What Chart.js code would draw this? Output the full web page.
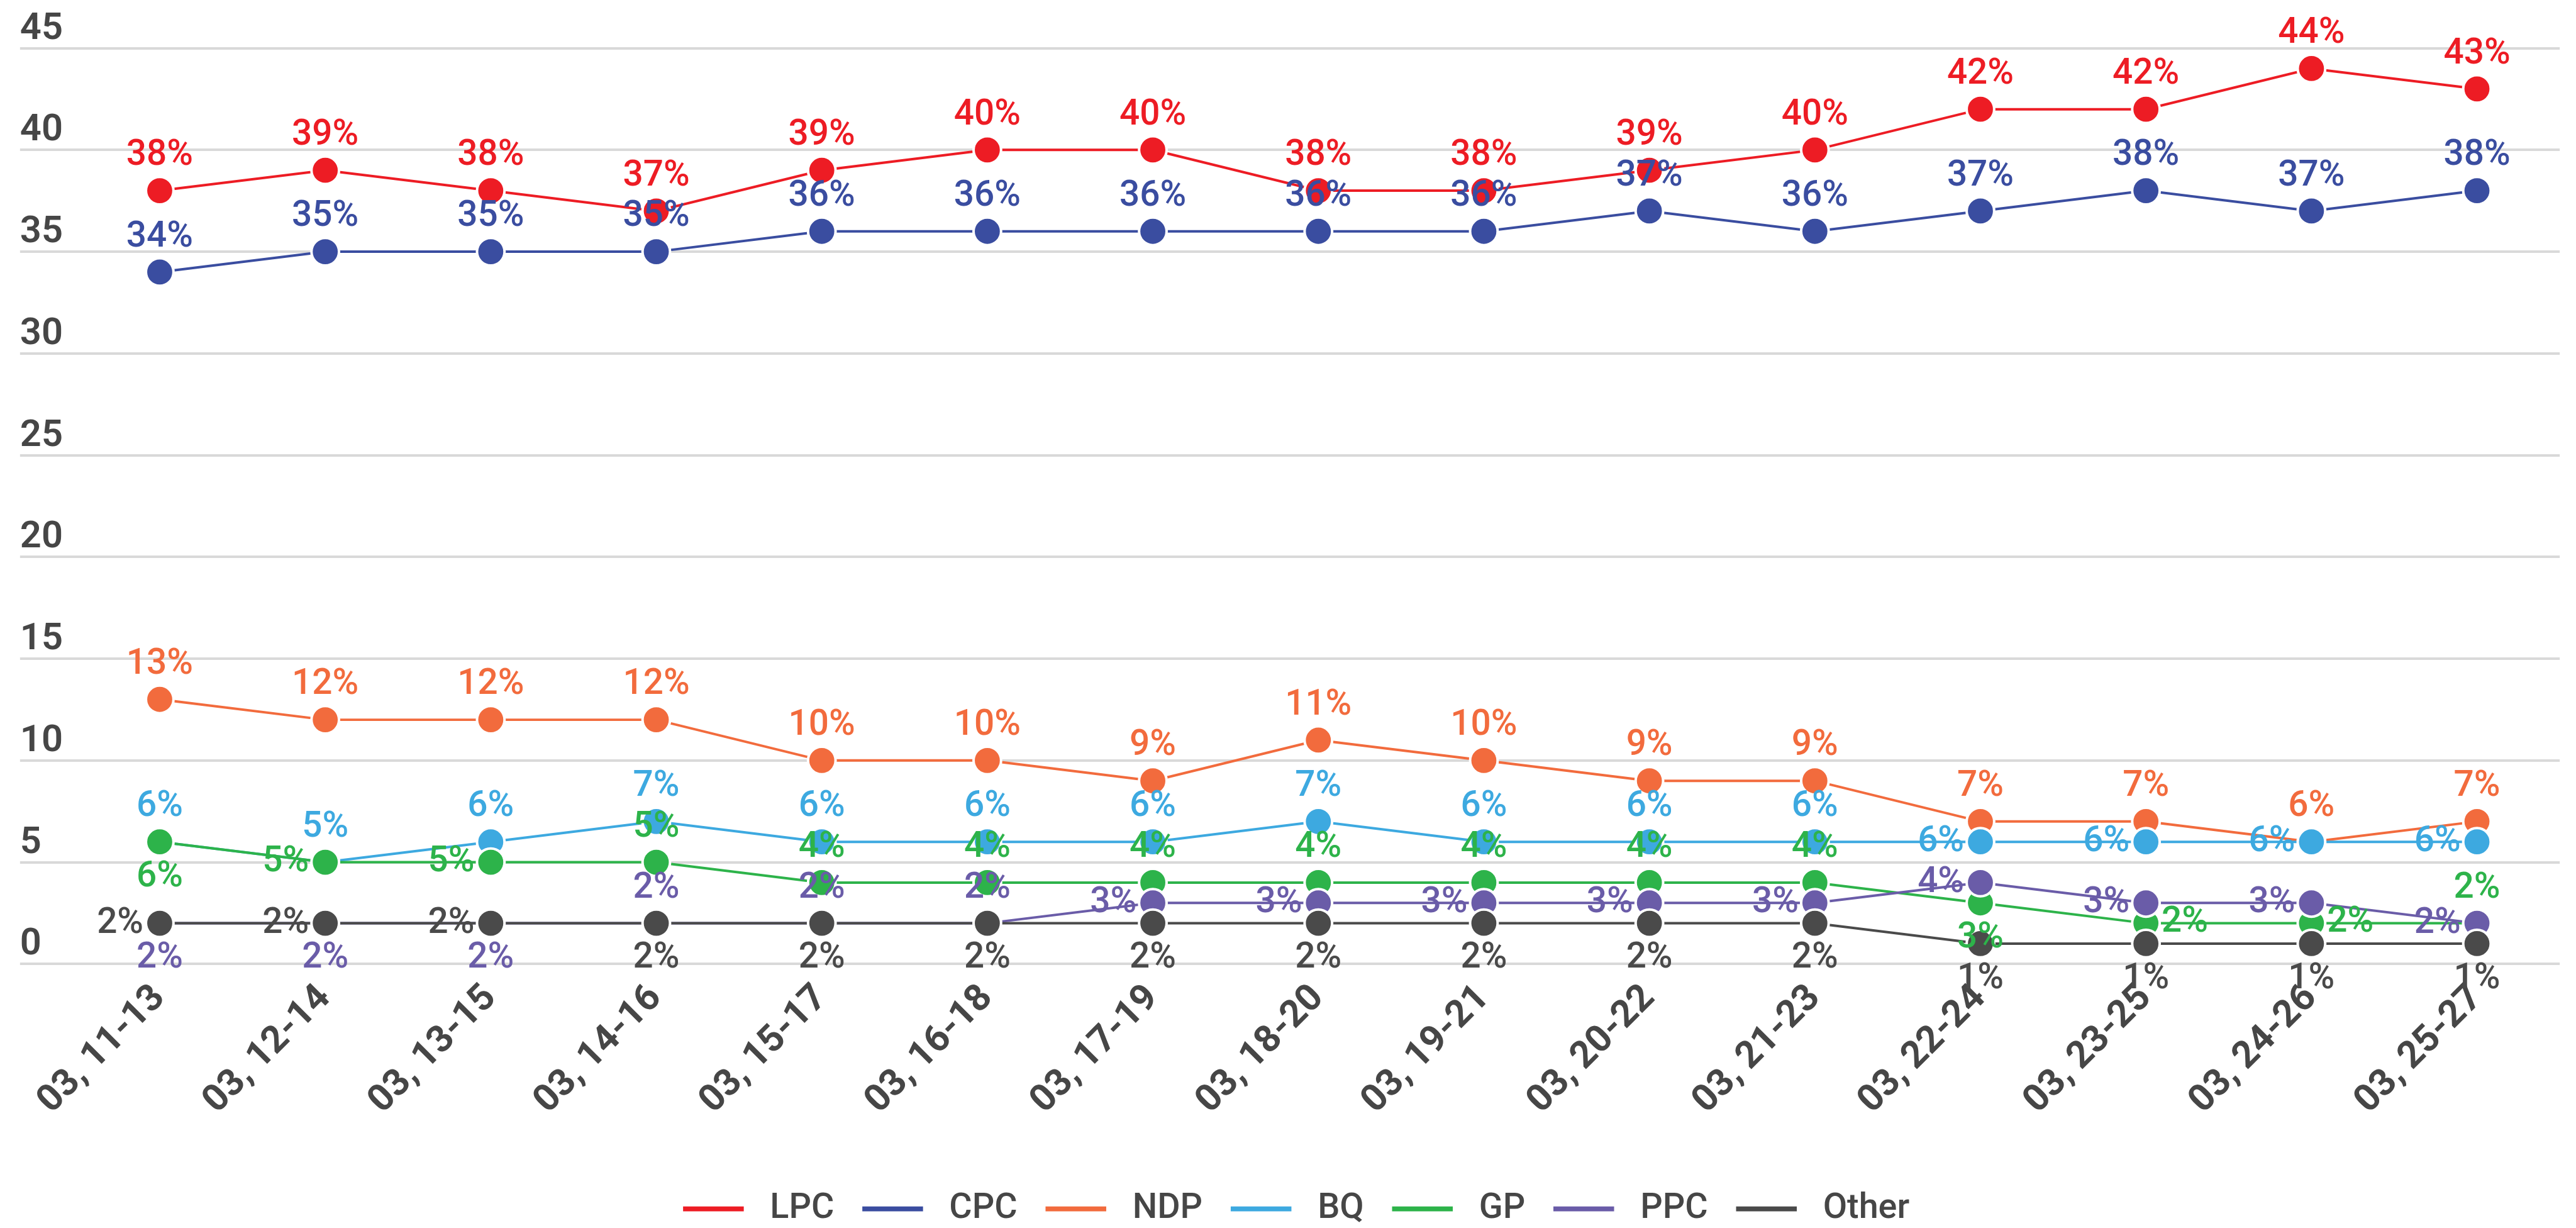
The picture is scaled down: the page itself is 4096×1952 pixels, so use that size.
<!DOCTYPE html>
<html>
<head>
<meta charset="utf-8">
<script src="https://cdn.jsdelivr.net/npm/chart.js@4.4.1/dist/chart.umd.min.js"></script>
<style>
  html, body { margin: 0; padding: 0; background: #ffffff; }
  #wrap { width: 4096px; height: 1952px; position: relative; }
</style>
</head>
<body>
<div id="wrap"><canvas id="chart"></canvas></div>
<script>
// ---------- DATA ----------
const categories = ['03, 11-13', '03, 12-14', '03, 13-15', '03, 14-16', '03, 15-17', '03, 16-18', '03, 17-19',
  '03, 18-20', '03, 19-21', '03, 20-22', '03, 21-23', '03, 22-24', '03, 23-25', '03, 24-26', '03, 25-27'];
const seriesNames = ['LPC', 'CPC', 'NDP', 'BQ', 'GP', 'PPC', 'Other'];
const lpc   = [38, 39, 38, 37, 39, 40, 40, 38, 38, 39, 40, 42, 42, 44, 43];
const cpc   = [34, 35, 35, 35, 36, 36, 36, 36, 36, 37, 36, 37, 38, 37, 38];
const ndp   = [13, 12, 12, 12, 10, 10, 9, 11, 10, 9, 9, 7, 7, 6, 7];
const bq    = [6, 5, 6, 7, 6, 6, 6, 7, 6, 6, 6, 6, 6, 6, 6];
const gp    = [6, 5, 5, 5, 4, 4, 4, 4, 4, 4, 4, 3, 2, 2, 2];
const ppc   = [2, 2, 2, 2, 2, 2, 3, 3, 3, 3, 3, 4, 3, 3, 2];
const other = [2, 2, 2, 2, 2, 2, 2, 2, 2, 2, 2, 1, 1, 1, 1];
const seriesValues = [lpc, cpc, ndp, bq, gp, ppc, other];
const yMin = 0, yMax = 45, yStep = 5;

// ---------- STYLE (kept apart from data) ----------
const S = 0.995;
const FONT = 'Roboto';
const TEXT = '#464646';
const GRID = '#d9d9d9';
const seriesColors = ['#ed1c24', '#3a4da0', '#f26b3d', '#3da9e0', '#2db34a', '#6a5ca8', '#4a4a4a'];
// label placement per point: t = above, b = below, l = left, r = right
const labelPlacement = [
  't'.repeat(15).split(''),
  't'.repeat(15).split(''),
  't'.repeat(15).split(''),
  ['t','t','t','t','t','t','t','t','t','t','t','l','l','l','l'],
  ['b','l','l','t','t','t','t','t','t','t','t','b','r','r','t'],
  ['b','b','b','t','t','t','l','l','l','l','l','l','l','l','l'],
  ['l','l','l','b','b','b','b','b','b','b','b','b','b','b','b']
];

const pointLabels = {
  id: 'pointLabels',
  afterDatasetsDraw(chart) {
    const ctx = chart.ctx;
    ctx.save();
    ctx.font = `500 ${57 * S}px ${FONT}`;
    ctx.textBaseline = 'alphabetic';
    chart.data.datasets.forEach((ds, i) => {
      const meta = chart.getDatasetMeta(i);
      meta.data.forEach((pt, j) => {
        const v = ds.data[j];
        const pos = labelPlacement[i][j];
        let x = pt.x, y = pt.y, align = 'center';
        if (pos === 't') { y -= 41 * S; }
        else if (pos === 'b') { y += 71 * S; }
        else if (pos === 'l') { x -= 26 * S; y += 15 * S; align = 'right'; }
        else if (pos === 'r') { x += 25 * S; y += 13 * S; align = 'left'; }
        ctx.textAlign = align;
        ctx.fillStyle = ds.borderColor;
        ctx.fillText(v + '%', x, y);
      });
    });
    ctx.restore();
  }
};

function build() {
  const W = 4096, H = 1952;
  const legendH = 103;
  const chartBottom = 1540 * S;
  const datasets = seriesNames.map((name, i) => ({
    label: name,
    data: seriesValues[i],
    borderColor: seriesColors[i],
    backgroundColor: seriesColors[i],
    pointBackgroundColor: seriesColors[i],
    pointBorderColor: '#ffffff',
    pointBorderWidth: 4 * S,
    pointRadius: 22 * S,
    pointHoverRadius: 22 * S,
    borderWidth: 4 * S,
    tension: 0,
    clip: false,
    order: seriesNames.length - 1 - i
  }));

  new Chart(document.getElementById('chart'), {
    type: 'line',
    data: { labels: categories, datasets },
    plugins: [pointLabels],
    options: {
      responsive: true,
      maintainAspectRatio: false,
      devicePixelRatio: 1,
      animation: false,
      events: [],
      layout: { padding: { left: 32 * S, top: 77 * S, right: W - 4111 * S, bottom: 0 } },
      plugins: {
        tooltip: { enabled: false },
        title: { display: false },
        legend: {
          position: 'bottom',
          align: 'center',
          maxHeight: legendH,
          labels: {
            boxWidth: 97 * S,
            boxHeight: 8 * S,
            padding: 45 * S,
            color: TEXT,
            font: { family: FONT, size: 56 * S, weight: '500' },
            generateLabels: (chart) => chart.data.datasets.map((ds, i) => ({
              text: ' ' + ds.label,
              fillStyle: ds.borderColor,
              strokeStyle: ds.borderColor,
              lineWidth: 0,
              hidden: false,
              datasetIndex: i,
              fontColor: TEXT
            }))
          }
        }
      },
      scales: {
        x: {
          type: 'category',
          offset: true,
          grid: { display: false },
          border: { display: false },
          ticks: {
            autoSkip: false,
            maxRotation: 45,
            minRotation: 45,
            padding: 12 * S,
            color: TEXT,
            font: { family: FONT, size: 60 * S, weight: '700' }
          },
          afterFit: (s) => { s.height = H - legendH - chartBottom; }
        },
        y: {
          min: yMin,
          max: yMax,
          grid: { color: GRID, lineWidth: 4 * S, drawTicks: true, tickLength: 91 * S },
          border: { display: false },
          ticks: {
            stepSize: yStep,
            crossAlign: 'far',
            align: 'end',
            padding: 0,
            color: TEXT,
            font: { family: FONT, size: 60 * S, weight: '600' }
          },
          afterFit: (s) => { s.width = 91 * S; }
        }
      }
    }
  });
}

Promise.all([
  document.fonts.load(`500 60px ${FONT}`),
  document.fonts.load(`600 60px ${FONT}`),
  document.fonts.load(`700 60px ${FONT}`)
]).catch(() => {}).then(build);
</script>
</body>
</html>
